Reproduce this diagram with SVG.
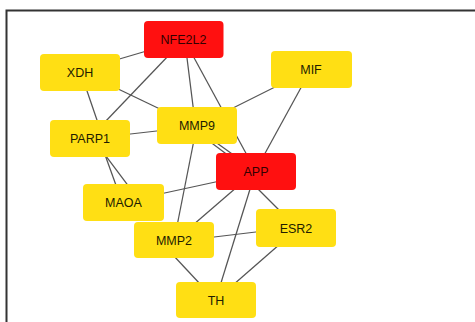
<svg xmlns="http://www.w3.org/2000/svg" width="475" height="322" viewBox="0 0 475 322">
<style>
.e{stroke:#555555;stroke-width:1.25;fill:none}
.y{fill:#FFDF14}
.r{fill:#FF1010}
text{font-family:"Liberation Sans",Arial,sans-serif;font-size:12.5px;fill:#221c00;text-anchor:middle}
.rt{fill:#330000}
</style>
<rect x="0" y="0" width="475" height="322" fill="#ffffff"/>
<path d="M6.5 322 V10.5 H475" stroke="#333" stroke-width="2" fill="none"/>
<g id="edges">
<line class="e" x1="150" y1="50" x2="116" y2="60"/>
<line class="e" x1="170" y1="54" x2="104" y2="123"/>
<line class="e" x1="186.5" y1="54" x2="193.5" y2="110"/>
<line class="e" x1="192" y1="54" x2="248" y2="157"/>
<line class="e" x1="114" y1="87" x2="162" y2="110"/>
<line class="e" x1="86" y1="88" x2="98" y2="123"/>
<line class="e" x1="277" y1="86" x2="231" y2="109"/>
<line class="e" x1="303" y1="84" x2="263" y2="157"/>
<line class="e" x1="126" y1="134.5" x2="161" y2="130.5"/>
<line class="e" x1="104" y1="152" x2="117" y2="188"/>
<line class="e" x1="103" y1="152" x2="130" y2="188"/>
<line class="e" x1="209" y1="141" x2="229" y2="156"/>
<line class="e" x1="214" y1="141" x2="235" y2="156"/>
<line class="e" x1="194" y1="140" x2="177" y2="226"/>
<line class="e" x1="220" y1="181" x2="160" y2="194"/>
<line class="e" x1="237" y1="187" x2="193" y2="225"/>
<line class="e" x1="251" y1="186" x2="220" y2="286"/>
<line class="e" x1="256" y1="187" x2="281" y2="212"/>
<line class="e" x1="210" y1="237.5" x2="260" y2="231.5"/>
<line class="e" x1="173" y1="255" x2="201" y2="285"/>
<line class="e" x1="280" y1="244" x2="233" y2="285"/>
</g>
<g id="NFE2L2"><rect class="r" x="144" y="21" width="79.5" height="37" rx="4"/><text class="rt" x="183.5" y="44">NFE2L2</text></g>
<g id="XDH"><rect class="y" x="40" y="54" width="80" height="37" rx="4"/><text x="80" y="77">XDH</text></g>
<g id="MIF"><rect class="y" x="271" y="51" width="81" height="37" rx="4"/><text x="311" y="74">MIF</text></g>
<g id="MMP9"><rect class="y" x="157" y="107" width="80" height="37" rx="4"/><text x="197" y="130">MMP9</text></g>
<g id="PARP1"><rect class="y" x="50" y="120" width="80" height="37" rx="4"/><text x="90" y="143">PARP1</text></g>
<g id="APP"><rect class="r" x="216" y="153" width="80" height="37" rx="4"/><text class="rt" x="256" y="176">APP</text></g>
<g id="MAOA"><rect class="y" x="83" y="184" width="81" height="37" rx="4"/><text x="123.5" y="207">MAOA</text></g>
<g id="ESR2"><rect class="y" x="256" y="209" width="80" height="38" rx="4"/><text x="296" y="233">ESR2</text></g>
<g id="MMP2"><rect class="y" x="134" y="222" width="80" height="36" rx="4"/><text x="174" y="245">MMP2</text></g>
<g id="TH"><rect class="y" x="176" y="282" width="80" height="36" rx="4"/><text x="216" y="305">TH</text></g>
</svg>
